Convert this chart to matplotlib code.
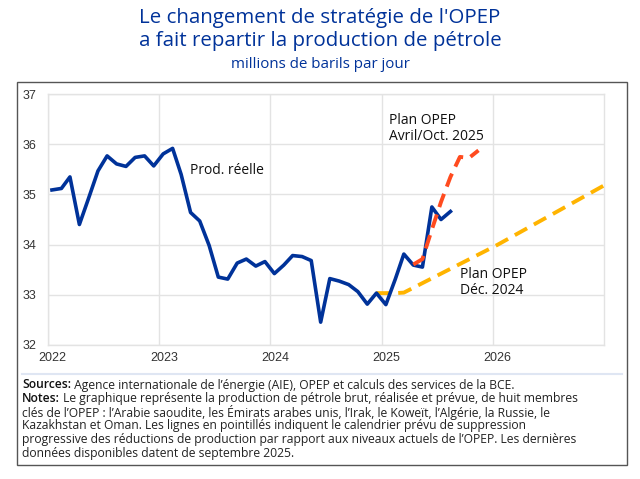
import matplotlib
matplotlib.use("Agg")
import matplotlib.pyplot as plt
import matplotlib.transforms as mtransforms
from matplotlib.patches import Rectangle
from matplotlib.lines import Line2D
import datetime as dt

# ---- data ----
actual_start = (2022, 1)
actual_values = [35.09, 35.12, 35.35, 34.40, 34.92, 35.47, 35.77, 35.61, 35.56, 35.74,
                 35.77, 35.57, 35.81, 35.92, 35.40, 34.64, 34.47, 33.98, 33.35, 33.31,
                 33.63, 33.71, 33.57, 33.66, 33.42, 33.59, 33.78, 33.76, 33.68, 32.45,
                 33.32, 33.27, 33.20, 33.06, 32.81, 33.03, 32.80, 33.31, 33.81, 33.59,
                 33.55, 34.75, 34.50, 34.66]

plan_2025_months = [(2025, 4), (2025, 5), (2025, 6), (2025, 7), (2025, 8), (2025, 9), (2025, 10), (2025, 11)]
plan_2025_values = [33.60, 33.71, 34.30, 34.85, 35.35, 35.75, 35.73, 35.88]

plan_2024_months = [(2024, 12), (2025, 1), (2025, 2), (2025, 3), (2026, 1), (2027, 1)]
plan_2024_values = [33.03, 33.03, 33.03, 33.04, 33.99, 35.18]

year_ticks = [2022, 2023, 2024, 2025, 2026]
y_ticks = [32, 33, 34, 35, 36, 37]

title_lines = ["Le changement de stratégie de l'OPEP", "a fait repartir la production de pétrole"]
subtitle = "millions de barils par jour"


def mdate(y, m, d=15):
    return dt.date(y, m, d)


actual_dates = []
y0, m0 = actual_start
for i in range(len(actual_values)):
    mm = m0 - 1 + i
    actual_dates.append(mdate(y0 + mm // 12, mm % 12 + 1))
plan25_dates = [mdate(y, m) for y, m in plan_2025_months]
plan24_dates = [mdate(y, m) for y, m in plan_2024_months]
plan24_dates[-1] = dt.date(2027, 1, 1)

BLUE = "#003299"
ORANGE = "#ff4b1f"
YELLOW = "#ffb400"
FONT = "Open Sans"
TICKFONT = ["Liberation Sans Narrow", "Liberation Sans"]
W, H = 640, 479

fig = plt.figure(figsize=(6.4, 4.79), dpi=100)
renderer = fig.canvas.get_renderer()


def fit(t, width_px, k=1.0):
    bb = t.get_window_extent(renderer=renderer)
    t.set_fontsize(t.get_fontsize() * width_px / bb.width * k)
    return t


ax = fig.add_axes([47.7 / W, 1 - 344.7 / H, (604 - 47.7) / W, (344.7 - 94.3) / H])

ax.plot(plan24_dates, plan_2024_values, color=YELLOW, lw=2.8, dashes=(3.6, 2.0), zorder=3)
ax.plot(actual_dates, actual_values, color=BLUE, lw=2.6, zorder=4)
ax.plot(plan25_dates, plan_2025_values, color=ORANGE, lw=2.8, dashes=(3.6, 2.0), zorder=5)

ax.set_xlim(dt.date(2022, 1, 1), dt.date(2027, 1, 1))
ax.set_ylim(32, 37)
ax.set_yticks(y_ticks)
ax.set_xticks([dt.date(y, 1, 1) for y in year_ticks])
ax.set_xticklabels([str(y) for y in year_ticks])
ax.grid(True, color="#e3e3e3", lw=1.0)
ax.set_axisbelow(True)
for s in ax.spines.values():
    s.set_color("#e3e3e3")
    s.set_linewidth(1.0)
ax.tick_params(length=0, labelsize=9, colors="#333333", pad=5)
for lab in ax.get_xticklabels() + ax.get_yticklabels():
    lab.set_fontfamily(TICKFONT)
offset = mtransforms.ScaledTranslation(5 / 100, 0, fig.dpi_scale_trans)
for lab in ax.get_xticklabels():
    lab.set_transform(lab.get_transform() + offset)
for lab in ax.get_yticklabels():
    lab.set_transform(lab.get_transform() + mtransforms.ScaledTranslation(-4 / 100, 0, fig.dpi_scale_trans))

ax.text(190 / W, 1 - 170 / H, "Prod. réelle", fontsize=10, family=FONT, color="#111111",
        va="center", transform=fig.transFigure)
ax.text(389 / W, 1 - 120 / H, "Plan OPEP", fontsize=10, family=FONT, color="#111111",
        va="center", transform=fig.transFigure)
ax.text(389 / W, 1 - 137 / H, "Avril/Oct. 2025", fontsize=10, family=FONT, color="#111111",
        va="center", transform=fig.transFigure)
ax.text(460 / W, 1 - 275 / H, "Plan OPEP", fontsize=10, family=FONT, color="#111111",
        va="center", transform=fig.transFigure)
ax.text(460 / W, 1 - 291 / H, "Déc. 2024", fontsize=10, family=FONT, color="#111111",
        va="center", transform=fig.transFigure)

# titles
t1 = fig.text(0.5, 1 - 18 / H, title_lines[0], ha="center", va="center", fontsize=15, family=FONT, color=BLUE)
fit(t1, 380, 0.95)
t2 = fig.text(0.5, 1 - 41 / H, title_lines[1], ha="center", va="center", fontsize=t1.get_fontsize(),
              family=FONT, color=BLUE)
st = fig.text(0.5, 1 - 65 / H, subtitle, ha="center", va="center", fontsize=10.5, family=FONT, color=BLUE)
fit(st, 190, 0.95)

# frame
fig.patches.append(Rectangle((16.7 / W, 1 - 465 / H), (626.7 - 16.7) / W, (465 - 81.7) / H,
                             transform=fig.transFigure, fill=False, edgecolor="#555555", lw=1.0))
fig.lines.append(Line2D([22 / W, 622 / W], [1 - 374 / H, 1 - 374 / H], transform=fig.transFigure,
                        color="#dfe6f3", lw=1.5))

notes = [
    ("Sources:", " Agence internationale de l’énergie (AIE), OPEP et calculs des services de la BCE."),
    ("Notes:", " Le graphique représente la production de pétrole brut, réalisée et prévue, de huit membres"),
    ("", "clés de l’OPEP : l’Arabie saoudite, les Émirats arabes unis, l’Irak, le Koweït, l’Algérie, la Russie, le"),
    ("", "Kazakhstan et Oman. Les lignes en pointillés indiquent le calendrier prévu de suppression"),
    ("", "progressive des réductions de production par rapport aux niveaux actuels de l’OPEP. Les dernières"),
    ("", "données disponibles datent de septembre 2025."),
]
probe = fig.text(0, 0, notes[1][0] + notes[1][1], fontsize=8.6, family=FONT)
fit(probe, 583, 0.95)
nfs = probe.get_fontsize()
probe.remove()

y = 385
for bold, rest in notes:
    x2 = 22 / W
    if bold:
        t = fig.text(x2, 1 - y / H, bold, ha="left", va="center", fontsize=nfs, family=FONT,
                     color="#111111", fontweight="semibold")
        bb = t.get_window_extent(renderer=renderer)
        x2 = bb.x1 / W
    fig.text(x2, 1 - y / H, rest, ha="left", va="center", fontsize=nfs, family=FONT, color="#222222")
    y += 13.6

fig.savefig("out.png", dpi=100)
